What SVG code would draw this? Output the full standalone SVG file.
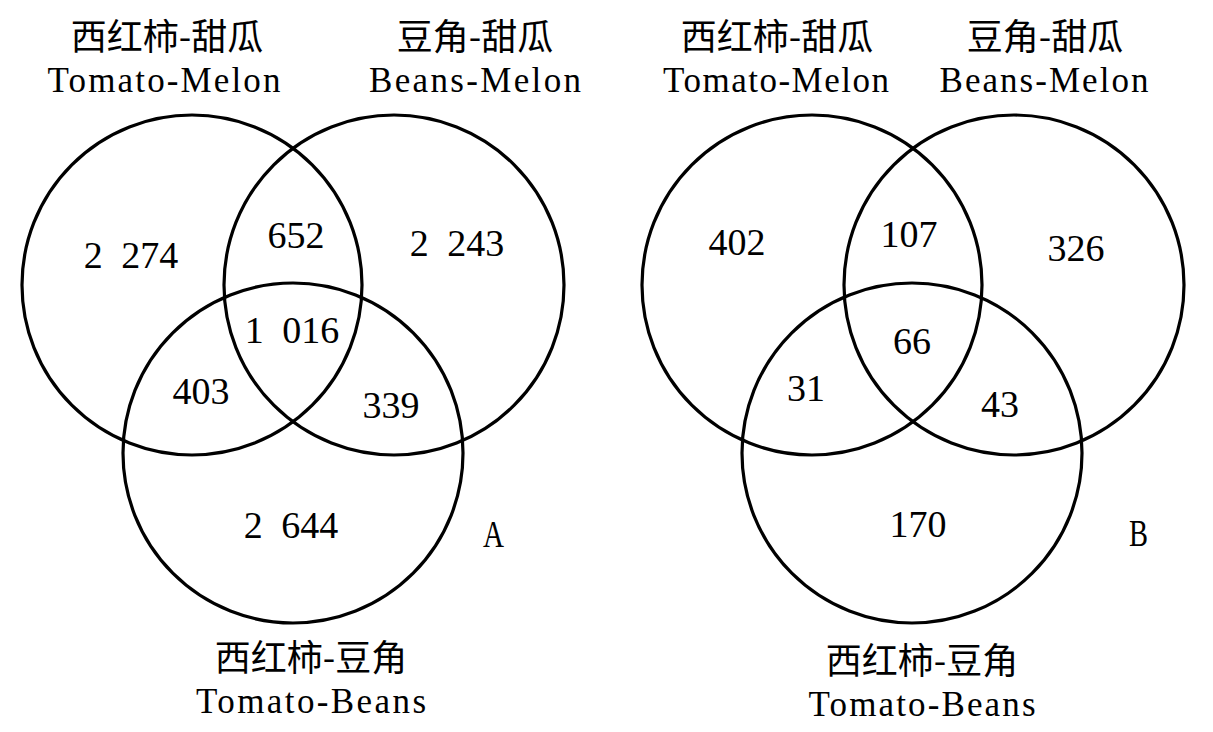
<svg xmlns="http://www.w3.org/2000/svg" width="1213" height="732" viewBox="0 0 1213 732">
<style>
.set{fill:none;stroke:#000;stroke-width:3.2}
.zh{font-family:"Noto Sans CJK SC","Noto Sans CJK TC",sans-serif;font-size:36px;fill:#000;text-anchor:middle}
.en{font-family:"Liberation Serif","Times New Roman",serif;font-size:35px;fill:#000;text-anchor:middle}
.num{font-family:"Liberation Serif","Times New Roman",serif;font-size:38px;fill:#000;text-anchor:middle}
.sp{word-spacing:9px}
.tag{font-family:"Liberation Serif","Times New Roman",serif;font-size:37px;fill:#000}
</style>
<rect width="1213" height="732" fill="#fff"/>
<g id="venn-A">
  <g id="A-tomato-melon">
    <circle class="set" cx="192" cy="285" r="170"/>
    <text class="zh" x="167" y="50">西红柿-甜瓜</text>
    <text class="en" x="164" y="92" textLength="233" lengthAdjust="spacing">Tomato-Melon</text>
  </g>
  <g id="A-beans-melon">
    <circle class="set" cx="394" cy="285" r="170"/>
    <text class="zh" x="475" y="50">豆角-甜瓜</text>
    <text class="en" x="475" y="92" textLength="212" lengthAdjust="spacing">Beans-Melon</text>
  </g>
  <g id="A-tomato-beans">
    <circle class="set" cx="293" cy="453" r="170"/>
    <text class="zh" x="311" y="671">西红柿-豆角</text>
    <text class="en" x="311" y="713" textLength="230" lengthAdjust="spacing">Tomato-Beans</text>
  </g>
  <g id="A-counts">
    <text class="num sp" x="131" y="268">2 274</text>
    <text class="num" x="296" y="248">652</text>
    <text class="num sp" x="457" y="256">2 243</text>
    <text class="num sp" x="292" y="343">1 016</text>
    <text class="num" x="201" y="404">403</text>
    <text class="num" x="391" y="418">339</text>
    <text class="num sp" x="291" y="538">2 644</text>
  </g>
  <text id="A-label" class="tag" x="483" y="547" textLength="21" lengthAdjust="spacingAndGlyphs">A</text>
</g>
<g id="venn-B">
  <g id="B-tomato-melon">
    <circle class="set" cx="812" cy="285" r="170"/>
    <text class="zh" x="777" y="50">西红柿-甜瓜</text>
    <text class="en" x="776" y="92" textLength="226" lengthAdjust="spacing">Tomato-Melon</text>
  </g>
  <g id="B-beans-melon">
    <circle class="set" cx="1014" cy="285" r="170"/>
    <text class="zh" x="1045" y="50">豆角-甜瓜</text>
    <text class="en" x="1044" y="92" textLength="209" lengthAdjust="spacing">Beans-Melon</text>
  </g>
  <g id="B-tomato-beans">
    <circle class="set" cx="912" cy="453" r="170"/>
    <text class="zh" x="922" y="674">西红柿-豆角</text>
    <text class="en" x="922" y="716" textLength="227" lengthAdjust="spacing">Tomato-Beans</text>
  </g>
  <g id="B-counts">
    <text class="num" x="737" y="255">402</text>
    <text class="num" x="909" y="247">107</text>
    <text class="num" x="1076" y="261">326</text>
    <text class="num" x="912" y="354">66</text>
    <text class="num" x="806" y="401">31</text>
    <text class="num" x="1000" y="417">43</text>
    <text class="num" x="918" y="537">170</text>
  </g>
  <text id="B-label" class="tag" x="1129" y="546" textLength="19" lengthAdjust="spacingAndGlyphs">B</text>
</g>
<g id="connectors"/>
</svg>
